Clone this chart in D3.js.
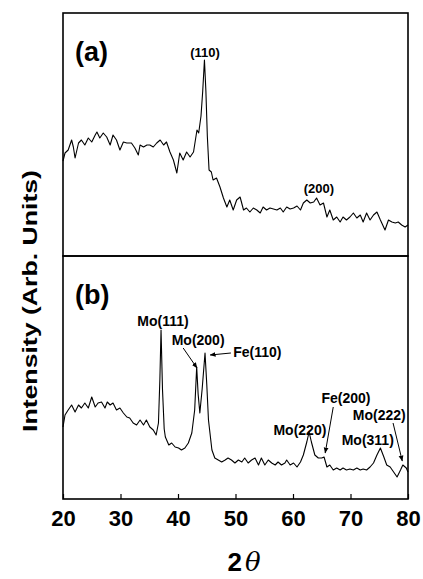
<!DOCTYPE html>
<html>
<head>
<meta charset="utf-8">
<script src="https://cdn.jsdelivr.net/npm/d3@7/dist/d3.min.js"></script>
<style>
   body { margin: 0; background: #fff; }
   svg text { font-family: "Liberation Sans", Arial, sans-serif; font-weight: bold; fill: #000; }
</style>
</head>
<body>
<div id="chart"></div>
<script>
// (a) pattern, 2theta and intensity (arb. units)
const twoThetaA = [20.0, 20.35, 20.9, 21.5, 21.8, 22.1, 22.7, 23.2, 23.8, 24.4, 25.0, 25.6, 25.9, 26.4, 27.0, 27.6,
   28.2, 28.7, 29.3, 29.9, 30.5, 31.1, 31.9, 32.5, 33.1, 33.4, 34.0, 34.6, 35.1, 35.7, 36.3, 36.9, 37.5, 38.0, 38.6,
   39.2, 39.8, 40.3, 40.9, 41.5, 42.1, 42.7, 43.3, 43.6, 44.0, 44.3, 44.6, 44.85, 45.1, 45.4, 45.8, 46.1, 46.7, 47.3,
   47.9, 48.5, 49.0, 49.6, 50.2, 50.8, 51.4, 51.9, 52.5, 53.1, 53.7, 54.3, 54.8, 55.4, 56.0, 56.6, 57.2, 57.8, 58.3,
   58.9, 59.5, 60.1, 60.7, 61.3, 61.8, 62.4, 63.0, 63.6, 64.1, 64.7, 65.3, 65.9, 66.4, 67.0, 67.6, 68.2, 68.7, 69.3,
   69.9, 70.5, 71.1, 71.7, 72.2, 72.8, 73.4, 74.0, 74.6, 75.2, 76.0, 76.6, 77.2, 77.8, 78.3, 78.9, 79.5, 80.0];
const intensityA = [95, 103, 106, 116, 109, 98, 113, 116, 111, 118, 114, 121, 124, 118, 123, 119,
   111, 121, 116, 106, 114, 113, 113, 108, 101, 111, 109, 111, 111, 109, 113, 116, 111, 114, 104,
   96, 83, 103, 96, 104, 99, 104, 126, 123, 140, 165, 196, 165, 120, 86, 84, 76, 78, 69,
   58, 49, 56, 46, 56, 59, 46, 48, 44, 48, 46, 43, 49, 46, 48, 47, 46, 48, 44,
   49, 47, 48, 50, 46, 53, 56, 53, 54, 58, 51, 53, 39, 46, 36, 39, 34, 39, 36,
   39, 43, 38, 41, 34, 43, 36, 41, 44, 36, 26, 36, 34, 33, 34, 31, 29, 31];

// (b) pattern
const twoThetaB = [20.0, 20.35, 20.9, 21.5, 22.1, 22.7, 23.2, 23.8, 24.4, 25.0, 25.6, 26.1, 26.7, 27.3, 27.7, 28.2,
   28.7, 29.3, 29.9, 30.5, 31.1, 31.6, 32.2, 32.8, 33.4, 34.0, 34.5, 35.1, 35.7, 36.2, 36.6, 36.85, 37.05, 37.3, 37.6,
   37.8, 38.4, 38.9, 39.5, 40.1, 40.6, 41.2, 41.8, 42.4, 42.9, 43.25, 43.5, 43.8, 44.2, 44.7, 45.0, 45.3, 45.9, 46.4,
   47.0, 47.6, 48.2, 48.7, 49.3, 49.9, 50.5, 51.1, 51.6, 52.2, 52.8, 53.4, 54.0, 54.5, 55.1, 55.7, 56.3, 56.9, 57.4,
   58.0, 58.6, 58.9, 59.5, 60.1, 60.7, 61.3, 61.8, 62.4, 62.8, 63.2, 63.8, 64.4, 65.0, 65.4, 65.9, 66.4, 67.0, 67.6,
   68.2, 68.7, 69.3, 69.9, 70.5, 71.1, 71.7, 72.2, 72.8, 73.4, 74.0, 74.6, 75.2, 75.8, 76.3, 76.9, 77.5, 78.1, 78.7,
   79.1, 79.7, 80.0];
const intensityB = [72, 84, 89, 94, 87, 94, 91, 96, 91, 102, 92, 96, 97, 91, 97, 94,
   96, 89, 91, 86, 82, 81, 76, 74, 79, 74, 79, 72, 69, 64, 76, 120, 169, 110, 70,
   62, 54, 56, 52, 51, 49, 51, 56, 66, 89, 132, 105, 86, 110, 146, 115, 79, 49, 41,
   39, 37, 39, 41, 39, 36, 39, 37, 41, 36, 39, 41, 34, 41, 34, 39, 36, 34, 37,
   34, 36, 39, 34, 36, 32, 37, 44, 57, 67, 57, 44, 41, 41, 42, 32, 34, 29, 31,
   29, 31, 29, 30, 29, 31, 29, 30, 29, 32, 36, 44, 51, 42, 34, 32, 27, 22, 29,
   34, 31, 27];

const xTicks = [20, 30, 40, 50, 60, 70, 80];

// peak labels: [text, 2theta, intensity]
const labelsA = [["(110)", 44.7, 199], ["(200)", 64.5, 63]];
const labelsB = [["Mo(111)", 37.4, 173], ["Mo(200)", 43.5, 154], ["Fe(110)", 53.8, 142],
   ["Fe(200)", 69.2, 96], ["Mo(220)", 61.2, 64], ["Mo(222)", 75.0, 79], ["Mo(311)", 73.0, 54]];
// arrows: [from 2theta, from intensity, to 2theta, to intensity]
const arrowsB = [[40.9, 151, 43.3, 131], [49.2, 146, 45.6, 144], [67.0, 92, 65.6, 46], [77.4, 76, 79.0, 38]];

const Width = 423, Height = 579;
const Left = 63, Right = 408, Top = 13, Mid = 256, Bottom = 499;

const svg = d3.select("#chart")
   .append("svg")
   .attr("width", Width)
   .attr("height", Height);

const defs = svg.append("defs");
defs.append("marker")
   .attr("id", "head")
   .attr("viewBox", "0 0 10 10")
   .attr("refX", 9)
   .attr("refY", 5)
   .attr("markerWidth", 6)
   .attr("markerHeight", 6)
   .attr("orient", "auto")
   .append("path")
   .attr("d", "M0,1 L10,5 L0,9 Z")
   .attr("fill", "#000");

const x = d3.scaleLinear().domain([20, 80]).range([Left, Right]);
const yA = d3.scaleLinear().domain([0, 243]).range([Mid, Top]);
const yB = d3.scaleLinear().domain([0, 243]).range([Bottom, Mid]);

function drawPanel(thetas, values, y, letter, labels, fontSize) {
   svg.append("rect")
      .attr("x", Left)
      .attr("y", y.range()[1])
      .attr("width", Right - Left)
      .attr("height", y.range()[0] - y.range()[1])
      .attr("fill", "none")
      .attr("stroke", "#000")
      .attr("stroke-width", 1.6);

   const line = d3.line()
      .x(function(d, i) { return x(thetas[i]); })
      .y(function(d) { return y(d); });

   svg.append("path")
      .datum(values)
      .attr("d", line)
      .attr("fill", "none")
      .attr("stroke", "#000")
      .attr("stroke-width", 1.1)
      .attr("stroke-linejoin", "round");

   svg.append("text")
      .attr("x", Left + 12)
      .attr("y", y.range()[1] + 48)
      .attr("font-size", 27)
      .text(letter);

   svg.selectAll(null)
      .data(labels)
      .enter()
      .append("text")
      .attr("x", function(d) { return x(d[1]); })
      .attr("y", function(d) { return y(d[2]); })
      .attr("text-anchor", "middle")
      .attr("font-size", fontSize)
      .text(function(d) { return d[0]; });
}

drawPanel(twoThetaA, intensityA, yA, "(a)", labelsA, 13);
drawPanel(twoThetaB, intensityB, yB, "(b)", labelsB, 14);

svg.selectAll(".arrow")
   .data(arrowsB)
   .enter()
   .append("line")
   .attr("class", "arrow")
   .attr("x1", function(d) { return x(d[0]); })
   .attr("y1", function(d) { return yB(d[1]); })
   .attr("x2", function(d) { return x(d[2]); })
   .attr("y2", function(d) { return yB(d[3]); })
   .attr("stroke", "#000")
   .attr("stroke-width", 1)
   .attr("marker-end", "url(#head)");

const axis = svg.append("g")
   .attr("transform", "translate(0," + Bottom + ")")
   .call(d3.axisBottom(x).tickValues(xTicks).tickSize(-5).tickPadding(11));
axis.select(".domain").remove();
axis.selectAll("line").attr("stroke", "#000").attr("stroke-width", 1.2);
axis.selectAll("text")
   .attr("font-size", 22)
   .attr("font-family", "'Liberation Sans', Arial, sans-serif")
   .attr("font-weight", "bold");

svg.append("text")
   .attr("transform", "translate(37," + ((Top + Bottom) / 2 + 45) + ") rotate(-90)")
   .attr("text-anchor", "middle")
   .attr("font-size", 21)
   .attr("textLength", 262)
   .attr("lengthAdjust", "spacingAndGlyphs")
   .text("Intensity (Arb. Units)");

const xTitle = svg.append("text")
   .attr("x", 244)
   .attr("y", 571)
   .attr("text-anchor", "middle")
   .attr("font-size", 26);
xTitle.append("tspan").text("2");
xTitle.append("tspan")
   .attr("font-family", "'DejaVu Serif', 'Liberation Serif', serif")
   .attr("font-style", "italic")
   .attr("font-weight", "normal")
   .attr("dx", 3)
   .text("θ");
</script>
</body>
</html>
